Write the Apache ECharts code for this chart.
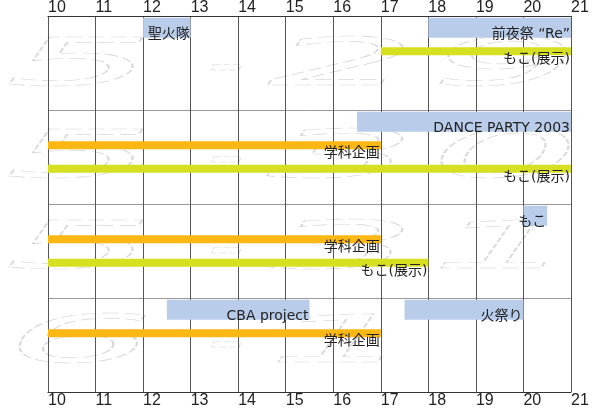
<!DOCTYPE html>
<html><head><meta charset="utf-8">
<script src="https://cdn.jsdelivr.net/npm/echarts@6/dist/echarts.min.js"></script>
<style>html,body{margin:0;padding:0;background:#fff}#c{width:600px;height:409px}</style>
</head><body><div id="c"></div>
<script>
// hour axis
const hourMin = 10;
const hourMax = 21;
// day watermarks (one per row)
const dayLabels = ['5-29', '5-30', '5-31', '6-1'];
// events
const eventNames = ['聖火隊', '前夜祭 “Re”', 'もこ(展示)', 'DANCE PARTY 2003', '学科企画', 'もこ(展示)', 'もこ', '学科企画', 'もこ(展示)', 'CBA project', '火祭り', '学科企画'];
const eventStart = [12, 18, 17, 16.5, 10, 10, 20, 10, 10, 12.5, 17.5, 10];
const eventEnd   = [13, 21, 21, 21,   17, 21, 20.5, 17, 18, 15.5, 20, 17];
const eventDay   = [0, 0, 0, 1, 1, 1, 2, 2, 2, 3, 3, 3];
const eventLane  = [0, 0, 1, 0, 1, 2, 0, 1, 2, 0, 0, 1];
const eventKind  = ['stage', 'stage', 'exhibit', 'stage', 'dept', 'exhibit', 'stage', 'dept', 'exhibit', 'stage', 'stage', 'dept'];
const lanesPerDay = 4;

const kindColors = { stage: '#b9cce9', dept: '#fbb714', exhibit: '#d7df22' };
const labelFont = '14px "DejaVu Sans", "Noto Sans CJK JP", sans-serif';

const chart = echarts.init(document.getElementById('c'));

const data = eventNames.map((n, i) => [eventStart[i], eventEnd[i], eventDay[i] * lanesPerDay + eventLane[i] + 0.5, i]);

// decorative watermark glyphs
const rowCenters = [68, 160, 251, 345];
const slotCenters = [80, 226, 342, 505];
const wm = [];
dayLabels.forEach((lab, r) => {
  const chars = lab.split('');
  chars.forEach((ch, k) => {
    wm.push({
      type: 'text',
      z: -10,
      silent: true,
      x: slotCenters[k],
      y: rowCenters[r],
      scaleX: ch === '-' ? 1.4 : 3.2,
      scaleY: 0.9,
      style: {
        text: ch,
        font: 'italic 74px "DejaVu Sans"',
        align: 'center',
        verticalAlign: 'middle',
        fill: 'rgba(0,0,0,0)',
        stroke: '#d9d9d9',
        lineWidth: 0.7,
        lineDash: [5, 2]
      }
    });
  });
});

const axisCommon = {
  type: 'value', min: hourMin, max: hourMax, interval: 1,
  axisTick: { show: false },
  axisLine: { show: true, lineStyle: { color: '#333', width: 1.2 } }
};

chart.setOption({
  animation: false,
  backgroundColor: '#fff',
  grid: { left: 48, right: 29, top: 13, bottom: 16 },
  graphic: { elements: wm },
  xAxis: [
    Object.assign({}, axisCommon, {
      position: 'top',
      axisLabel: { align: 'left', margin: 0, fontSize: 16, fontFamily: 'Liberation Sans', color: '#222' },
      splitLine: { show: true, lineStyle: { color: '#555', width: 1 } }
    }),
    Object.assign({}, axisCommon, {
      position: 'bottom',
      axisLabel: { align: 'left', margin: 1, fontSize: 16, fontFamily: 'Liberation Sans', color: '#222' },
      splitLine: { show: false }
    })
  ],
  yAxis: {
    type: 'value', min: 0, max: lanesPerDay * dayLabels.length, interval: lanesPerDay, inverse: true,
    axisLabel: { show: false }, axisTick: { show: false }, axisLine: { show: false },
    splitLine: { show: true, lineStyle: { color: '#999', width: 1 } }
  },
  series: [{
    type: 'custom',
    xAxisIndex: 0,
    z: 5,
    encode: { x: [0, 1], y: 2 },
    data: data,
    renderItem: function (params, api) {
      const i = api.value(3);
      const s = api.coord([api.value(0), api.value(2)]);
      const e = api.coord([api.value(1), api.value(2)]);
      const kind = eventKind[i];
      const h = kind === 'stage' ? 20 : 8;
      return {
        type: 'group',
        children: [
          { type: 'rect', shape: { x: s[0], y: s[1] - h / 2, width: e[0] - s[0], height: h }, style: { fill: kindColors[kind] } },
          { type: 'text', z2: 10, x: e[0] - 1, y: s[1] + (kind === 'stage' ? 7 : 8.5),
            style: { text: eventNames[i], align: 'right', verticalAlign: 'middle', font: labelFont, fill: '#222' } }
        ]
      };
    }
  }]
});
</script>
</body></html>
